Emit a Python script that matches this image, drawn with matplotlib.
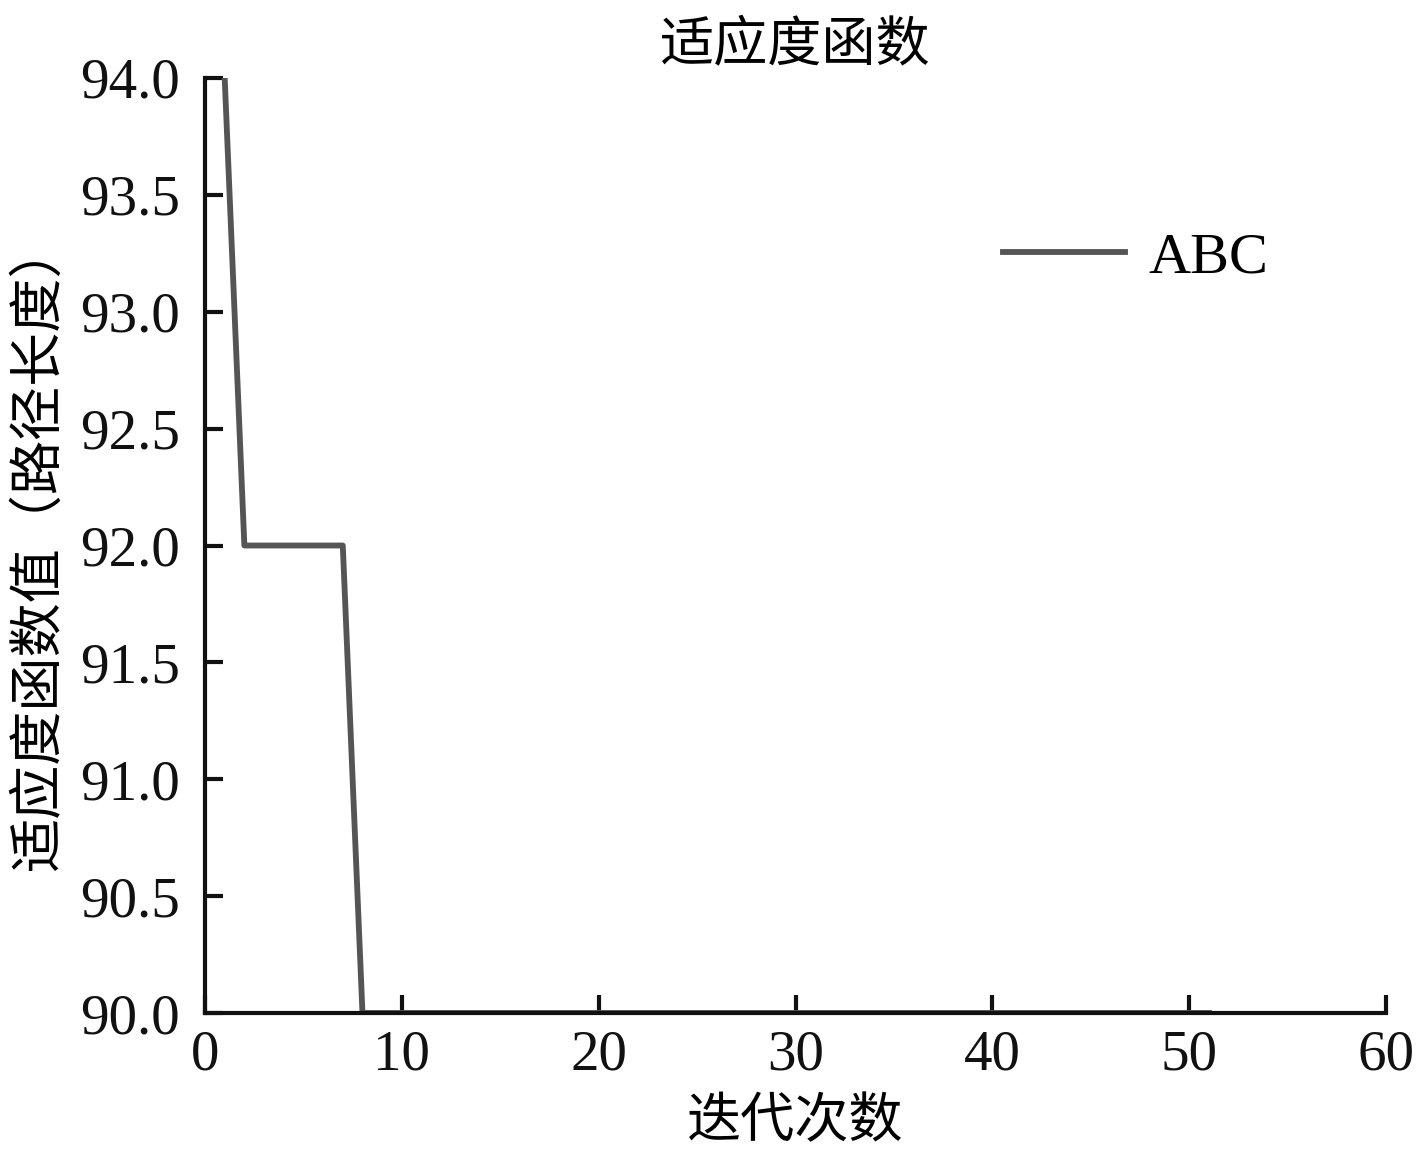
import matplotlib
matplotlib.use("Agg")
import matplotlib.pyplot as plt

plt.rcParams['font.family'] = ['Liberation Serif', 'Noto Sans CJK SC', 'DejaVu Sans']

# dados da curva (iteração -> aptidão)
iteracoes = list(range(1, 52))
aptidao = [94.0] + [92.0] * 6 + [90.0] * 44

titulo = "适应度函数"
rotulo_x = "迭代次数"
rotulo_y = "适应度函数值（路径长度）"
nome_serie = "ABC"

fig = plt.figure(figsize=(14.17, 11.62), dpi=100)
ax = fig.add_axes([205 / 1417, 1 - 1013 / 1162, (1386 - 205) / 1417, (1013 - 78) / 1162])

ax.plot(iteracoes, aptidao, color='#555555', linewidth=4.2, label=nome_serie)

ax.set_xlim(0, 60)
ax.set_ylim(90, 94)
ax.set_xticks([0, 10, 20, 30, 40, 50, 60])
ax.set_yticks([90.0, 90.5, 91.0, 91.5, 92.0, 92.5, 93.0, 93.5, 94.0])
ax.set_yticklabels([f"{v:.1f}" for v in ax.get_yticks()])

for lado in ['top', 'right']:
    ax.spines[lado].set_visible(False)
for lado in ['left', 'bottom']:
    ax.spines[lado].set_linewidth(3)
    ax.spines[lado].set_color('#111111')

ax.tick_params(direction='in', length=13, width=3, labelsize=41, colors='#111111')
ax.tick_params(axis='y', pad=18)
ax.tick_params(axis='x', pad=12)

ax.set_title(titulo, fontsize=39, pad=12)
ax.set_xlabel(rotulo_x, fontsize=39, labelpad=12)
ax.set_ylabel(rotulo_y, fontsize=39, labelpad=10)

ax.legend(loc='upper right', bbox_to_anchor=(0.945, 0.892), frameon=False, fontsize=42,
          handlelength=2.1, handletextpad=0.4)

fig.savefig("out.png", dpi=100)
